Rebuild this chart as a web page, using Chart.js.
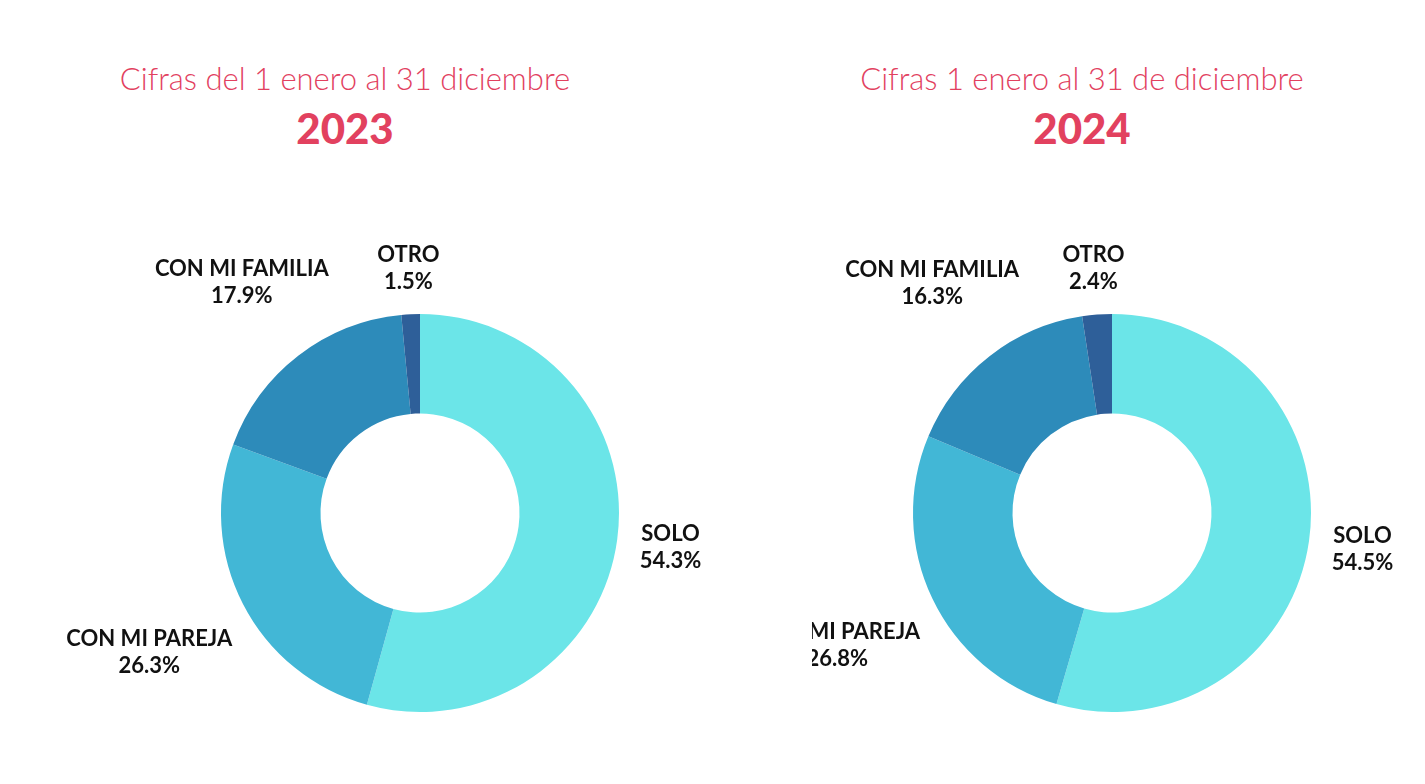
<!DOCTYPE html>
<html><head><meta charset="utf-8">
<script src="https://cdn.jsdelivr.net/npm/chart.js@4.4.0/dist/chart.umd.min.js"></script>
<style>
body{margin:0;width:1425px;height:784px;background:#fff;position:relative;overflow:hidden;font-family:Lato,sans-serif}
.t{position:absolute;color:#e2415f;text-align:center;width:700px}
.t .a{font-size:31px;font-weight:300;line-height:36px}
.t .b{font-size:42px;font-weight:900;line-height:52px;margin-top:6px}
canvas{position:absolute}
</style></head><body>
<div class="t" style="left:-5px;top:60px"><div class="a">Cifras del 1 enero al 31 diciembre</div><div class="b">2023</div></div>
<div class="t" style="left:732px;top:60px"><div class="a">Cifras 1 enero al 31 de diciembre</div><div class="b">2024</div></div>
<div style="position:absolute;left:30px;top:233px;width:780px;height:560px"><canvas id="c1"></canvas></div>
<div style="position:absolute;left:812px;top:233px;width:600px;height:560px"><canvas id="c2"></canvas></div>
<script>
const categories=["SOLO","CON MI PAREJA","CON MI FAMILIA","OTRO"];
const values2023=[54.3,26.3,17.9,1.5];
const values2024=[54.5,26.8,16.3,2.4];
const colors=["#6be5e8","#42b7d6","#2d8bba","#2e5f99"];
const labelPlugin={id:'lbl',afterDatasetsDraw(chart){
  const ctx=chart.ctx,meta=chart.getDatasetMeta(0),data=chart.data.datasets[0].data;
  ctx.save();ctx.font='bold 22px Lato';ctx.fillStyle='#111';ctx.textAlign='center';ctx.textBaseline='middle';
  meta.data.forEach((arc,i)=>{
    const a=(arc.startAngle+arc.endAngle)/2;
    const l1=categories[i],l2=data[i].toFixed(1)+'%';
    const hw=Math.max(ctx.measureText(l1).width,ctx.measureText(l2).width)/2;
    const s=Math.cos(a),c=Math.sin(a);
    const d=arc.outerRadius+20+hw*Math.abs(s)+25*Math.abs(c);
    const x=arc.x+s*d,y=arc.y+c*d;
    ctx.fillText(l1,x,y-13);ctx.fillText(l2,x,y+14);
  });ctx.restore();}};
function make(id,vals){
  new Chart(document.getElementById(id),{type:'doughnut',
    data:{labels:categories,datasets:[{data:vals,backgroundColor:colors,borderWidth:0}]},
    options:{responsive:true,maintainAspectRatio:false,animation:false,cutout:'50%',
      layout:{padding:{top:81,bottom:81}},
      plugins:{legend:{display:false},tooltip:{enabled:false}}},
    plugins:[labelPlugin]});
}
make('c1',values2023);make('c2',values2024);
</script></body></html>
